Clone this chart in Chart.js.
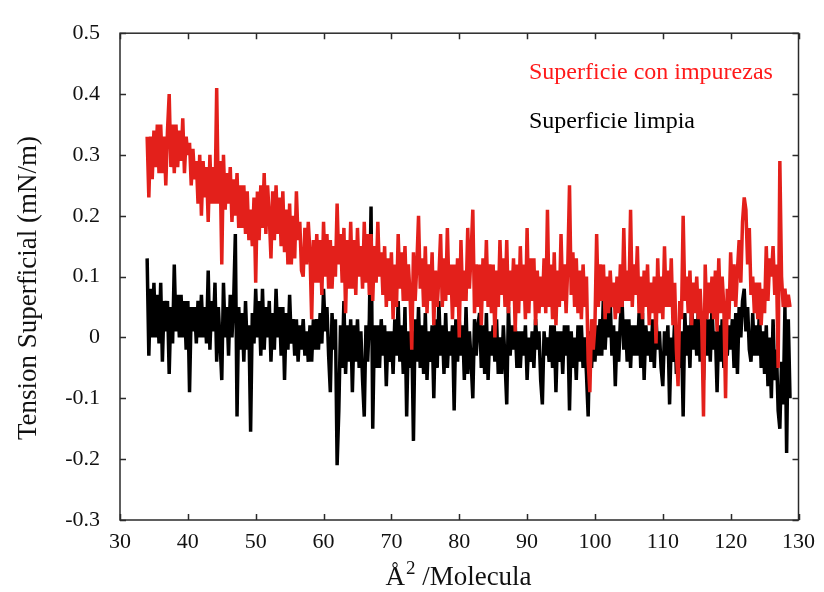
<!DOCTYPE html>
<html>
<head>
<meta charset="utf-8">
<script src="https://cdn.jsdelivr.net/npm/chart.js@4"></script>
<style>
  html, body { margin: 0; padding: 0; background: #fff; }
  canvas { display: block; }
</style>
</head>
<body>
<canvas id="tension" width="824" height="592"></canvas>
<script>
// ── Data (one row = 5 Å²) ──
const areaPerMolecule = [
  34, 34.25, 34.5, 34.75, 35, 35.25, 35.5, 35.75, 36, 36.25, 36.5, 36.75, 37, 37.25, 37.5, 37.75, 38, 38.25, 38.5, 38.75,
  39, 39.25, 39.5, 39.75, 40, 40.25, 40.5, 40.75, 41, 41.25, 41.5, 41.75, 42, 42.25, 42.5, 42.75, 43, 43.25, 43.5, 43.75,
  44, 44.25, 44.5, 44.75, 45, 45.25, 45.5, 45.75, 46, 46.25, 46.5, 46.75, 47, 47.25, 47.5, 47.75, 48, 48.25, 48.5, 48.75,
  49, 49.25, 49.5, 49.75, 50, 50.25, 50.5, 50.75, 51, 51.25, 51.5, 51.75, 52, 52.25, 52.5, 52.75, 53, 53.25, 53.5, 53.75,
  54, 54.25, 54.5, 54.75, 55, 55.25, 55.5, 55.75, 56, 56.25, 56.5, 56.75, 57, 57.25, 57.5, 57.75, 58, 58.25, 58.5, 58.75,
  59, 59.25, 59.5, 59.75, 60, 60.25, 60.5, 60.75, 61, 61.25, 61.5, 61.75, 62, 62.25, 62.5, 62.75, 63, 63.25, 63.5, 63.75,
  64, 64.25, 64.5, 64.75, 65, 65.25, 65.5, 65.75, 66, 66.25, 66.5, 66.75, 67, 67.25, 67.5, 67.75, 68, 68.25, 68.5, 68.75,
  69, 69.25, 69.5, 69.75, 70, 70.25, 70.5, 70.75, 71, 71.25, 71.5, 71.75, 72, 72.25, 72.5, 72.75, 73, 73.25, 73.5, 73.75,
  74, 74.25, 74.5, 74.75, 75, 75.25, 75.5, 75.75, 76, 76.25, 76.5, 76.75, 77, 77.25, 77.5, 77.75, 78, 78.25, 78.5, 78.75,
  79, 79.25, 79.5, 79.75, 80, 80.25, 80.5, 80.75, 81, 81.25, 81.5, 81.75, 82, 82.25, 82.5, 82.75, 83, 83.25, 83.5, 83.75,
  84, 84.25, 84.5, 84.75, 85, 85.25, 85.5, 85.75, 86, 86.25, 86.5, 86.75, 87, 87.25, 87.5, 87.75, 88, 88.25, 88.5, 88.75,
  89, 89.25, 89.5, 89.75, 90, 90.25, 90.5, 90.75, 91, 91.25, 91.5, 91.75, 92, 92.25, 92.5, 92.75, 93, 93.25, 93.5, 93.75,
  94, 94.25, 94.5, 94.75, 95, 95.25, 95.5, 95.75, 96, 96.25, 96.5, 96.75, 97, 97.25, 97.5, 97.75, 98, 98.25, 98.5, 98.75,
  99, 99.25, 99.5, 99.75, 100, 100.25, 100.5, 100.75, 101, 101.25, 101.5, 101.75, 102, 102.25, 102.5, 102.75, 103, 103.25, 103.5, 103.75,
  104, 104.25, 104.5, 104.75, 105, 105.25, 105.5, 105.75, 106, 106.25, 106.5, 106.75, 107, 107.25, 107.5, 107.75, 108, 108.25, 108.5, 108.75,
  109, 109.25, 109.5, 109.75, 110, 110.25, 110.5, 110.75, 111, 111.25, 111.5, 111.75, 112, 112.25, 112.5, 112.75, 113, 113.25, 113.5, 113.75,
  114, 114.25, 114.5, 114.75, 115, 115.25, 115.5, 115.75, 116, 116.25, 116.5, 116.75, 117, 117.25, 117.5, 117.75, 118, 118.25, 118.5, 118.75,
  119, 119.25, 119.5, 119.75, 120, 120.25, 120.5, 120.75, 121, 121.25, 121.5, 121.75, 122, 122.25, 122.5, 122.75, 123, 123.25, 123.5, 123.75,
  124, 124.25, 124.5, 124.75, 125, 125.25, 125.5, 125.75, 126, 126.25, 126.5, 126.75, 127, 127.25, 127.5, 127.75, 128, 128.25, 128.5, 128.75
];

// Superficie con impurezas (mN/m)
const tensionImpurezas = [
  0.33, 0.23, 0.33, 0.26, 0.34, 0.28, 0.35, 0.27, 0.35, 0.27, 0.33, 0.25, 0.34, 0.40, 0.28, 0.35, 0.27, 0.35, 0.28, 0.34,
  0.29, 0.36, 0.27, 0.33, 0.30, 0.32, 0.25, 0.31, 0.26, 0.29, 0.22, 0.30, 0.20, 0.29, 0.23, 0.28, 0.19, 0.30, 0.22, 0.28,
  0.22, 0.41, 0.22, 0.29, 0.12, 0.30, 0.21, 0.27, 0.22, 0.28, 0.19, 0.26, 0.20, 0.27, 0.18, 0.25, 0.18, 0.25, 0.17, 0.24,
  0.16, 0.21, 0.15, 0.23, 0.09, 0.24, 0.16, 0.25, 0.18, 0.27, 0.17, 0.25, 0.20, 0.13, 0.24, 0.16, 0.25, 0.17, 0.23, 0.15,
  0.24, 0.14, 0.21, 0.12, 0.22, 0.12, 0.20, 0.13, 0.24, 0.16, 0.19, 0.11, 0.10, 0.18, 0.12, 0.19, 0.14, 0.03, 0.16, 0.09,
  0.17, 0.09, 0.16, 0.07, 0.19, 0.10, 0.17, 0.08, 0.16, 0.08, 0.15, 0.10, 0.22, 0.12, 0.17, 0.09, 0.18, 0.04, 0.16, 0.08,
  0.19, 0.08, 0.16, 0.07, 0.18, 0.10, 0.15, 0.08, 0.19, 0.09, 0.17, 0.07, 0.17, 0.06, 0.15, 0.09, 0.19, 0.10, 0.14, 0.07,
  0.15, 0.05, 0.13, 0.06, 0.14, 0.03, 0.12, 0.05, 0.17, 0.08, 0.14, 0.06, 0.15, 0.06, 0.12, 0.07, -0.02, 0.14, 0.06, 0.12,
  0.20, 0.08, 0.13, 0.05, 0.15, 0.04, 0.12, 0.06, 0.14, 0.02, 0.11, 0.05, 0.10, 0.17, 0.05, 0.13, 0.06, 0.18, 0.07, 0.12,
  0.03, 0.12, 0.05, 0.13, 0.00, 0.16, 0.06, 0.11, 0.06, 0.18, 0.08, 0.14, 0.21, 0.04, 0.12, 0.05, 0.12, 0.02, 0.13, 0.06,
  0.16, 0.05, 0.12, 0.04, 0.12, 0.00, 0.11, 0.05, 0.16, 0.07, 0.13, 0.05, 0.16, 0.04, 0.11, 0.06, 0.13, 0.01, 0.12, 0.04,
  0.15, 0.06, 0.12, 0.03, 0.18, 0.04, 0.13, 0.06, 0.13, 0.02, 0.11, 0.04, 0.10, 0.05, 0.13, 0.04, 0.21, 0.05, 0.12, 0.03,
  0.14, 0.02, 0.11, 0.05, 0.17, 0.06, 0.12, 0.04, 0.12, 0.25, 0.07, 0.14, 0.05, 0.13, 0.04, 0.11, 0.03, 0.12, 0.05, 0.10,
  -0.04, -0.09, 0.03, -0.02, 0.02, 0.17, 0.05, 0.12, 0.06, 0.12, 0.03, 0.10, 0.04, 0.11, 0.05, 0.09, 0.03, 0.10, 0.04, 0.12,
  0.05, 0.18, 0.06, 0.11, 0.06, 0.21, 0.05, 0.12, 0.07, 0.15, 0.04, 0.10, 0.03, 0.11, 0.05, 0.12, 0.02, 0.09, 0.04, 0.10,
  -0.01, 0.13, 0.04, 0.10, 0.03, 0.15, 0.05, 0.11, 0.05, 0.13, 0.02, 0.09, -0.02, -0.08, 0.06, 0.03, 0.20, 0.06, 0.10, 0.04,
  0.11, 0.02, 0.09, 0.04, 0.10, 0.03, 0.08, 0.02, -0.13, 0.12, 0.03, 0.09, 0.04, 0.10, 0.03, 0.11, 0.01, 0.13, 0.04, 0.10,
  0.05, -0.10, 0.08, 0.03, 0.14, 0.06, 0.12, 0.05, 0.11, 0.16, 0.09, 0.19, 0.23, 0.21, 0.12, 0.18, 0.07, 0.10, 0.04, 0.09,
  0.03, 0.09, 0.02, 0.08, 0.04, 0.15, 0.06, 0.13, 0.10, 0.15, 0.07, 0.12, -0.05, 0.29, 0.10, 0.05, 0.08, 0.05, 0.07, 0.05
];

// Superficie limpia (mN/m)
const tensionLimpia = [
  0.13, -0.03, 0.08, 0.00, 0.09, 0.00, 0.07, -0.01, 0.09, -0.04, 0.06, 0.01, 0.06, -0.06, 0.05, -0.01, 0.12, 0.01, 0.07, 0.00,
  0.07, 0.00, 0.06, -0.02, 0.06, -0.09, 0.05, 0.01, 0.05, -0.01, 0.06, 0.00, 0.07, 0.00, 0.05, -0.01, 0.11, -0.02, 0.06, 0.01,
  0.09, -0.04, 0.05, -0.01, -0.07, 0.09, 0.00, 0.05, -0.03, 0.07, 0.00, 0.06, 0.17, -0.13, 0.05, -0.02, 0.04, -0.04, 0.06, -0.02,
  0.02, -0.155, 0.04, -0.01, 0.08, 0.00, 0.06, -0.03, 0.08, -0.02, 0.05, 0.00, 0.06, -0.04, 0.04, -0.02, 0.08, 0.00, 0.05, -0.03,
  0.05, -0.07, 0.04, -0.02, 0.07, -0.01, 0.03, -0.03, 0.03, -0.04, 0.02, -0.02, 0.03, -0.03, 0.01, -0.04, 0.02, -0.04, 0.03, -0.02,
  0.03, -0.02, 0.04, -0.01, 0.08, 0.01, 0.05, -0.03, -0.09, 0.04, -0.02, 0.03, -0.21, -0.12, 0.02, -0.05, 0.06, -0.06, 0.02, -0.04,
  0.03, -0.09, 0.02, -0.04, 0.03, -0.05, 0.01, -0.07, -0.13, 0.02, -0.04, 0.03, 0.215, -0.15, 0.02, -0.05, 0.02, -0.05, 0.03, -0.03,
  0.02, -0.08, 0.01, -0.04, 0.01, -0.06, 0.03, -0.03, 0.06, -0.04, 0.02, -0.06, 0.05, -0.13, 0.01, -0.05, 0.01, -0.17, 0.03, -0.04,
  0.05, -0.05, 0.02, -0.06, 0.04, -0.07, 0.01, -0.04, 0.02, -0.10, 0.03, -0.05, 0.06, -0.03, 0.02, -0.06, 0.04, -0.05, 0.01, -0.03,
  0.02, -0.12, 0.03, -0.04, 0.03, -0.03, 0.02, -0.07, 0.05, -0.06, 0.01, -0.04, -0.10, 0.03, -0.03, 0.02, 0.04, -0.05, 0.02, -0.06,
  0.04, -0.07, 0.01, -0.03, 0.02, -0.04, 0.03, -0.06, 0.00, -0.06, 0.02, -0.04, -0.11, 0.05, -0.03, 0.02, -0.02, 0.02, -0.05, 0.01,
  -0.05, 0.01, -0.03, 0.02, -0.07, 0.00, -0.04, 0.01, -0.05, 0.03, -0.02, 0.01, -0.07, -0.11, 0.01, -0.03, 0.00, -0.04, 0.02, -0.05,
  0.02, -0.09, 0.01, -0.04, 0.01, -0.06, 0.02, -0.03, 0.02, -0.12, 0.01, -0.05, 0.00, -0.07, 0.02, -0.04, 0.02, -0.05, 0.00, -0.06,
  -0.13, 0.01, -0.05, 0.02, -0.04, 0.02, -0.03, 0.03, -0.03, 0.07, -0.02, 0.04, 0.00, 0.06, -0.03, 0.02, -0.08, 0.01, -0.04, 0.03,
  0.06, -0.02, 0.03, -0.04, 0.03, -0.05, 0.02, -0.03, 0.02, -0.03, 0.04, -0.05, 0.04, -0.07, 0.02, -0.03, 0.01, -0.04, 0.03, -0.05,
  0.03, -0.02, 0.01, -0.05, -0.08, 0.01, -0.03, 0.02, -0.11, 0.00, -0.04, 0.03, -0.06, 0.02, -0.05, 0.01, -0.13, 0.04, -0.03, 0.02,
  -0.05, 0.06, -0.02, 0.03, -0.03, 0.05, -0.04, 0.02, -0.07, 0.04, -0.03, 0.03, -0.04, 0.05, -0.02, 0.01, -0.09, 0.02, -0.04, 0.03,
  -0.05, 0.06, -0.03, 0.02, -0.02, 0.03, -0.05, 0.04, -0.06, 0.05, 0.00, 0.06, 0.08, 0.01, 0.05, -0.02, -0.04, 0.04, -0.03, 0.02,
  -0.03, 0.05, -0.05, 0.01, -0.06, 0.02, -0.08, 0.00, -0.10, 0.03, -0.07, -0.02, -0.12, -0.15, -0.04, -0.11, 0.05, -0.19, 0.03, -0.10
];

const xRange = [30, 130];
const yRange = [-0.3, 0.5];
const yTitle = 'Tension Superficial (mN/m)';
const xTitleParts = ['Å', '2', ' /Molecula'];

const SERIF = '"Liberation Serif", "Times New Roman", serif';
const colors = { red: '#e3201b', legendRed: '#ff1a1a', black: '#000000', axis: '#2a2a2a', text: '#111111' };

function toPoints(ys) {
  return areaPerMolecule.map((x, i) => ({ x, y: ys[i] }));
}

// ── Frame + inward ticks on all four sides (gnuplot look) ──
const frameTicks = {
  id: 'frameTicks',
  afterDatasetsDraw(chart) {
    const { ctx, chartArea: a, scales: { x, y } } = chart;
    const len = 6;
    ctx.save();
    ctx.strokeStyle = colors.axis;
    ctx.lineWidth = 1.5;
    ctx.strokeRect(a.left, a.top, a.right - a.left, a.bottom - a.top);
    ctx.beginPath();
    x.ticks.forEach(t => {
      const px = Math.round(x.getPixelForValue(t.value)) + 0.5;
      ctx.moveTo(px, a.bottom); ctx.lineTo(px, a.bottom - len);
      ctx.moveTo(px, a.top); ctx.lineTo(px, a.top + len);
    });
    y.ticks.forEach(t => {
      const py = Math.round(y.getPixelForValue(t.value)) + 0.5;
      ctx.moveTo(a.left, py); ctx.lineTo(a.left + len, py);
      ctx.moveTo(a.right, py); ctx.lineTo(a.right - len, py);
    });
    ctx.stroke();
    ctx.restore();
  }
};

// ── Text labels: in-plot legend + axis titles ──
const textLabels = {
  id: 'textLabels',
  afterDraw(chart) {
    const { ctx, chartArea: a } = chart;
    ctx.save();
    // legend: coloured text only, no swatches
    ctx.font = '24px ' + SERIF;
    ctx.textAlign = 'left';
    ctx.textBaseline = 'alphabetic';
    const ds = chart.data.datasets;
    ctx.fillStyle = colors.legendRed;
    ctx.fillText(ds[0].label, a.left + 409, 79);
    ctx.fillStyle = colors.black;
    ctx.fillText(ds[1].label, a.left + 409, 128);

    // y title, rotated
    ctx.fillStyle = colors.text;
    ctx.font = '27px ' + SERIF;
    ctx.translate(29, 288);
    ctx.rotate(-Math.PI / 2);
    ctx.textAlign = 'center';
    ctx.textBaseline = 'middle';
    ctx.fillText(yTitle, 0, 0);
    ctx.setTransform(1, 0, 0, 1, 0, 0);

    // x title with superscript 2
    const big = '27px ' + SERIF, small = '19px ' + SERIF;
    ctx.textAlign = 'left';
    ctx.textBaseline = 'alphabetic';
    ctx.font = big;  const w0 = ctx.measureText(xTitleParts[0]).width;
    ctx.font = small; const w1 = ctx.measureText(xTitleParts[1]).width;
    ctx.font = big;  const w2 = ctx.measureText(xTitleParts[2]).width;
    let tx = 458 - (w0 + w1 + w2) / 2;
    const base = 585;
    ctx.font = big;   ctx.fillText(xTitleParts[0], tx, base); tx += w0 + 1;
    ctx.font = small; ctx.fillText(xTitleParts[1], tx, base - 11); tx += w1;
    ctx.font = big;   ctx.fillText(xTitleParts[2], tx, base);
    ctx.restore();
  }
};

const bgWhite = {
  id: 'bgWhite',
  beforeDraw(chart) {
    const { ctx, width, height } = chart;
    ctx.save();
    ctx.fillStyle = '#fff';
    ctx.fillRect(0, 0, width, height);
    ctx.restore();
  }
};

new Chart(document.getElementById('tension'), {
  type: 'line',
  data: {
    datasets: [{
      label: 'Superficie con impurezas',
      data: toPoints(tensionImpurezas),
      borderColor: colors.red,
      borderWidth: 3.5,
      borderJoinStyle: 'bevel',
      pointRadius: 0,
      tension: 0,
      order: 1,
    }, {
      label: 'Superficie limpia',
      data: toPoints(tensionLimpia),
      borderColor: colors.black,
      borderWidth: 3.5,
      borderJoinStyle: 'bevel',
      pointRadius: 0,
      tension: 0,
      order: 2,
    }],
  },
  options: {
    responsive: false,
    animation: false,
    devicePixelRatio: 1,
    layout: { padding: { top: 24, right: 21, left: 0, bottom: 0 } },
    plugins: {
      legend: { display: false },
      tooltip: { enabled: false },
    },
    scales: {
      x: {
        type: 'linear',
        min: xRange[0],
        max: xRange[1],
        afterFit: s => { s.height = 72; },
        border: { display: false },
        grid: { display: false, drawTicks: false },
        ticks: { stepSize: 10, padding: 9, color: colors.text, font: { family: SERIF, size: 22 } },
      },
      y: {
        min: yRange[0],
        max: yRange[1],
        afterFit: s => { s.width = 120; },
        border: { display: false },
        grid: { display: false, drawTicks: false },
        ticks: {
          stepSize: 0.1,
          padding: 20,
          color: colors.text,
          font: { family: SERIF, size: 22 },
          callback: v => String(Math.round(v * 10) / 10),
        },
      },
    },
  },
  plugins: [bgWhite, frameTicks, textLabels],
});
</script>
</body>
</html>
